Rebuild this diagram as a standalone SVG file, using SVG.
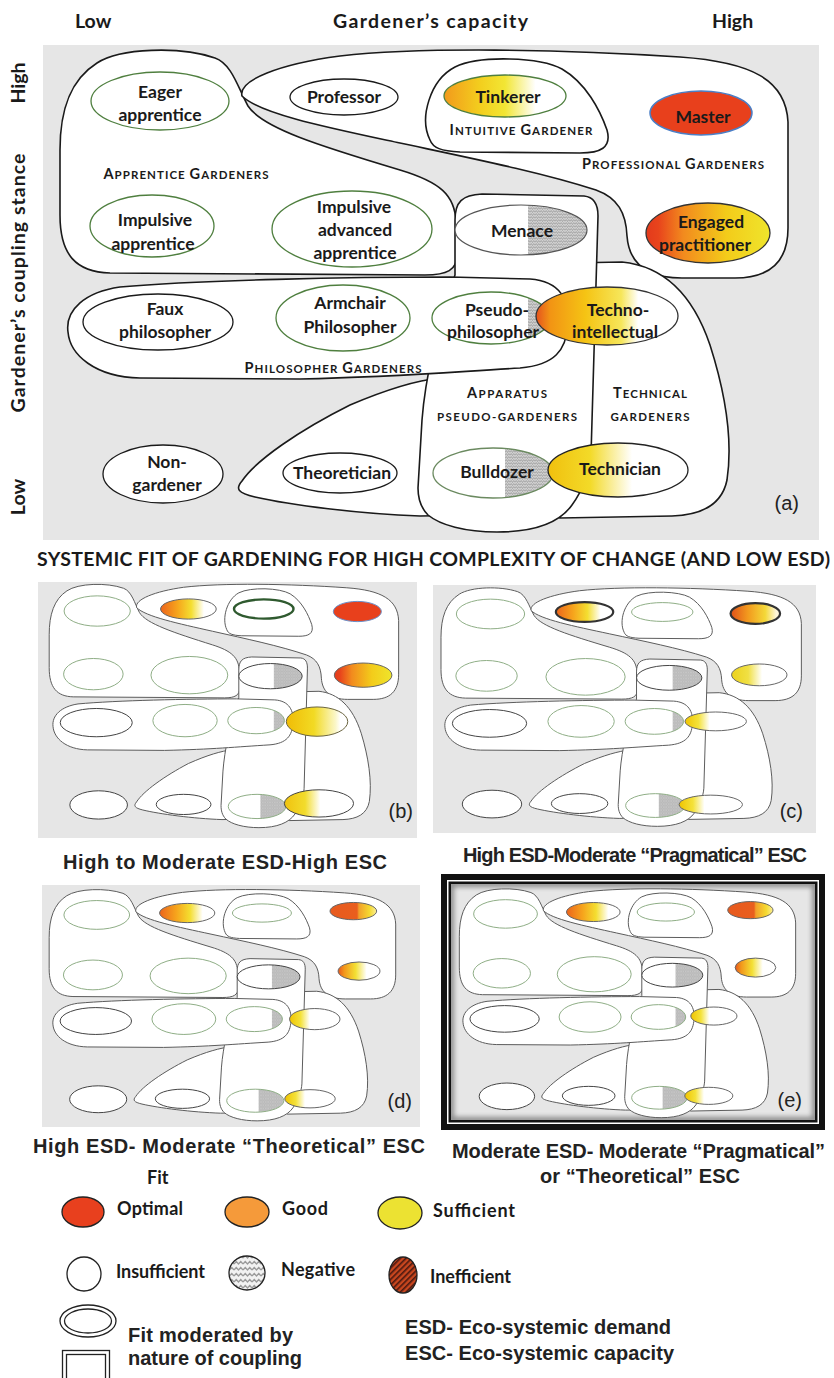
<svg xmlns="http://www.w3.org/2000/svg" width="834" height="1378" viewBox="0 0 834 1378">
<style>
  .bg{fill:#e6e6e6}
  .big{fill:#fff;stroke:#1a1a1a;stroke-width:1.6}
  .small{fill:#fff;stroke:#5c5c5c;stroke-width:1}
  .t{font-family:Lato,"Open Sans","Liberation Sans",sans-serif;font-weight:700;fill:#1a1a1a}
  .lbl{font-size:17.5px;text-anchor:middle}
  .sc{font-size:14.5px;text-anchor:middle}
  .sc .s{font-size:11.5px}
  .ax{font-size:19.5px}
  .leg{font-size:18px}
  .cap{font-family:"Liberation Sans",Arial,sans-serif;font-weight:700;font-size:20px;fill:#222}
  .tag{font-family:"Liberation Sans",Arial,sans-serif;font-size:20px;fill:#222;text-anchor:end}
  .eg{fill:#fff;stroke:#4f7f3f;stroke-width:1.3}
  .ek{fill:#fff;stroke:#1a1a1a;stroke-width:1.3}
  .sg{fill:#fff;stroke:#8fae86;stroke-width:1;vector-effect:non-scaling-stroke}
  .sk{fill:#fff;stroke:#444;stroke-width:1;vector-effect:non-scaling-stroke}
  .sn{stroke:#666;stroke-width:1;vector-effect:non-scaling-stroke}
  .sh{fill:url(#hz);stroke:none}
  .lg{stroke:#222;stroke-width:1.3}
</style>
<defs>
  <!-- fit gradients -->
  <linearGradient id="g-tink"><stop offset="0" stop-color="#f29a1c"/><stop offset=".3" stop-color="#f3cf1e"/><stop offset=".5" stop-color="#f2e634"/><stop offset=".75" stop-color="#fff"/></linearGradient>
  <linearGradient id="g-eng"><stop offset="0" stop-color="#e33a1c"/><stop offset=".1" stop-color="#e8441c"/><stop offset=".3" stop-color="#f28a1e"/><stop offset=".65" stop-color="#f3cc1a"/><stop offset="1" stop-color="#efe52c"/></linearGradient>
  <linearGradient id="g-techno"><stop offset="0" stop-color="#e5521e"/><stop offset=".1" stop-color="#f29414"/><stop offset=".35" stop-color="#f5c414"/><stop offset=".6" stop-color="#f6e65a"/><stop offset=".72" stop-color="#fff"/></linearGradient>
  <linearGradient id="g-techn"><stop offset="0" stop-color="#f0c00e"/><stop offset=".3" stop-color="#f3da28"/><stop offset=".6" stop-color="#fff"/></linearGradient>
  <linearGradient id="g-pb"><stop offset="0" stop-color="#ec641c"/><stop offset=".3" stop-color="#f6a41c"/><stop offset=".55" stop-color="#f4de30"/><stop offset=".78" stop-color="#fff"/></linearGradient>
  <linearGradient id="g-tb"><stop offset="0" stop-color="#f0bc06"/><stop offset=".45" stop-color="#f2da24"/><stop offset=".8" stop-color="#fbf7c8"/><stop offset=".88" stop-color="#fff"/></linearGradient>
  <linearGradient id="g-tnb"><stop offset="0" stop-color="#f0c20e"/><stop offset=".3" stop-color="#f2dc2c"/><stop offset=".52" stop-color="#fff"/></linearGradient>
  <linearGradient id="g-mc"><stop offset="0" stop-color="#e0501a"/><stop offset=".35" stop-color="#f29a1e"/><stop offset=".7" stop-color="#f4d838"/><stop offset=".92" stop-color="#fff6d8"/></linearGradient>
  <linearGradient id="g-md"><stop offset="0" stop-color="#e85a1e"/><stop offset=".58" stop-color="#e95e1e"/><stop offset=".62" stop-color="#f2a02a"/><stop offset=".85" stop-color="#f5da30"/><stop offset="1" stop-color="#fbef9a"/></linearGradient>
  <linearGradient id="g-ec"><stop offset="0" stop-color="#ecd21c"/><stop offset=".3" stop-color="#f0e044"/><stop offset=".55" stop-color="#fff"/></linearGradient>
  <linearGradient id="g-ed"><stop offset="0" stop-color="#e8561c"/><stop offset=".15" stop-color="#f2981c"/><stop offset=".42" stop-color="#f3e034"/><stop offset=".68" stop-color="#fff"/></linearGradient>
  <linearGradient id="g-ys"><stop offset="0" stop-color="#f0c400"/><stop offset=".22" stop-color="#f4e23a"/><stop offset=".4" stop-color="#fff"/></linearGradient>

  <!-- negative-fit texture -->
  <pattern id="hz" width="5" height="3" patternUnits="userSpaceOnUse">
    <rect width="5" height="3" fill="#d2d2d2"/>
    <path d="M0,2.5 L1.25,0.5 L2.5,2.5 L3.75,0.5 L5,2.5" fill="none" stroke="#8a8a8a" stroke-width="0.6"/>
  </pattern>
  <pattern id="zz" width="9" height="6" patternUnits="userSpaceOnUse">
    <rect width="9" height="6" fill="#f2f2f2"/>
    <path d="M0,4 L2.25,1.5 L4.5,4 L6.75,1.5 L9,4" fill="none" stroke="#9a9a9a" stroke-width="1.3"/>
  </pattern>
  <pattern id="stripe" width="4" height="4" patternUnits="userSpaceOnUse" patternTransform="rotate(45)">
    <rect width="4" height="4" fill="#c8461e"/>
    <rect width="1.6" height="4" fill="#4a1810"/>
  </pattern>

  <filter id="soft" x="-5%" y="-5%" width="110%" height="110%"><feGaussianBlur stdDeviation="2.5"/></filter>
  <clipPath id="clip-e"><rect x="451" y="884" width="364" height="236"/></clipPath>

  <!-- gardener family regions, drawn in the large panel's coordinates -->
  <path id="s-app" vector-effect="non-scaling-stroke" d="M97,63 C120,48 180,46 215,58 C232,64 238,88 248,106 C262,128 320,146 400,170 C440,182 455,195 456,222 L457,255 C457,270 447,275 425,275 L110,273 C76,272 60,255 60,215 L60,150 C60,110 70,80 97,63 Z"/>
  <path id="s-pro" vector-effect="non-scaling-stroke" d="M242,96 C238,80 280,64 340,56 C420,47 560,49 680,57 C752,62 786,80 788,122 L788,228 C788,262 770,278 735,278 L682,278 C645,278 629,262 627,236 C626,213 618,198 596,190 C540,172 470,158 400,143 C330,128 260,114 242,96 Z"/>
  <path id="s-int" vector-effect="non-scaling-stroke" d="M430,140 C419,118 430,80 455,67 C480,55 540,57 562,69 C586,83 600,110 607,130 C612,148 600,153 580,153 L460,152 C441,151 433,148 430,140 Z"/>
  <path id="s-the" vector-effect="non-scaling-stroke" d="M242,481 C256,460 300,430 350,405 C390,388 420,380 440,378 L480,378 L480,515 L420,516 C360,514 290,505 255,497 C238,493 235,489 242,481 Z"/>
  <path id="s-tec" vector-effect="non-scaling-stroke" d="M570,263 L622,262 C662,266 692,292 710,345 C725,392 733,440 727,480 C722,505 702,515 672,516 L560,518 L560,263 Z"/>
  <path id="s-apa" vector-effect="non-scaling-stroke" d="M455,220 C455,202 462,195 482,194 L584,196 C594,197 598,204 598,216 L591,455 C590,470 583,490 572,505 C560,522 535,532 497,532 C465,532 440,525 428,515 C420,507 418,498 418,488 L422,420 C425,380 438,320 455,275 Z"/>
  <path id="s-phi" vector-effect="non-scaling-stroke" d="M68,332 C65,310 85,292 120,287 C200,280 350,277 450,277 L530,279 C560,281 570,300 568,325 C566,350 555,365 520,368 C450,372 400,377 300,379 L140,378 C95,377 70,355 68,332 Z"/>

  <g id="regions">
    <use href="#s-app"/><use href="#s-pro"/><use href="#s-int"/><use href="#s-the"/>
    <use href="#s-tec"/><use href="#s-apa"/><use href="#s-phi"/>
  </g>

  <!-- outlines shared by the four small panels -->
  <g id="e-common">
    <ellipse class="sg" cx="160" cy="103" rx="69" ry="30"/>
    <ellipse class="sg" cx="152" cy="228" rx="62" ry="31"/>
    <ellipse class="sg" cx="352" cy="230" rx="80" ry="37"/>
    <ellipse fill="#fff" cx="521" cy="232" rx="66" ry="25"/>
    <path class="sh" d="M528,207.14 A66 25 0 0 1 528,256.86 Z"/>
    <ellipse class="sk" style="fill:none" cx="521" cy="232" rx="66" ry="25"/>
    <ellipse class="sk" cx="158" cy="324" rx="75" ry="28"/>
    <ellipse class="sg" cx="343" cy="320" rx="67" ry="32"/>
    <ellipse fill="#fff" cx="491" cy="320" rx="59" ry="26"/>
    <path class="sh" d="M528,299.7 A59 26 0 0 1 528,340.3 Z"/>
    <ellipse class="sg" style="fill:none" cx="491" cy="320" rx="59" ry="26"/>
    <ellipse class="sk" cx="163" cy="487" rx="60" ry="28"/>
    <ellipse class="sk" cx="340" cy="486" rx="57" ry="20"/>
    <ellipse fill="#fff" cx="493" cy="490" rx="60" ry="24"/>
    <path class="sh" d="M500,466.2 A60 24 0 0 1 500,513.8 Z"/>
    <ellipse class="sg" style="fill:none" cx="493" cy="490" rx="60" ry="24"/>
  </g>
</defs>

<rect width="834" height="1378" fill="#fff"/>

<!-- axis titles -->
<g id="axes">
  <text class="t ax" x="75" y="28">Low</text>
  <text class="t ax" x="333" y="28" textLength="195">Gardener’s capacity</text>
  <text class="t ax" x="712" y="28">High</text>
  <text class="t ax" transform="translate(25,83) rotate(-90)" text-anchor="middle">High</text>
  <text class="t ax" transform="translate(25,283) rotate(-90)" text-anchor="middle" textLength="259">Gardener’s coupling stance</text>
  <text class="t ax" transform="translate(25,497) rotate(-90)" text-anchor="middle">Low</text>
</g>

<!-- panel (a): typology map -->
<g id="panel-a">
  <rect class="bg" x="43" y="45" width="776" height="495"/>

  <g id="region-apprentice">
    <use href="#s-app" class="big"/>
    <text class="t sc" x="186" y="179" textLength="165">A<tspan class="s">PPRENTICE </tspan>G<tspan class="s">ARDENERS</tspan></text>
  </g>
  <g id="region-professional">
    <use href="#s-pro" class="big"/>
    <text class="t sc" x="673" y="169" textLength="182">P<tspan class="s">ROFESSIONAL </tspan>G<tspan class="s">ARDENERS</tspan></text>
  </g>
  <g id="region-intuitive">
    <use href="#s-int" class="big"/>
    <text class="t sc" x="521" y="135" textLength="143">I<tspan class="s">NTUITIVE </tspan>G<tspan class="s">ARDENER</tspan></text>
  </g>
  <g id="region-theoretician">
    <use href="#s-the" class="big"/>
  </g>
  <g id="region-technical">
    <use href="#s-tec" class="big"/>
    <text class="t sc" x="650" y="398" textLength="74">T<tspan class="s">ECHNICAL</tspan></text>
    <text class="t sc" x="650" y="421" textLength="79"><tspan class="s">GARDENERS</tspan></text>
  </g>
  <g id="region-apparatus">
    <use href="#s-apa" class="big"/>
    <text class="t sc" x="507" y="398" textLength="80">A<tspan class="s">PPARATUS</tspan></text>
    <text class="t sc" x="507" y="421" textLength="140"><tspan class="s">PSEUDO-GARDENERS</tspan></text>
  </g>
  <g id="region-philosopher">
    <use href="#s-phi" class="big"/>
    <text class="t sc" x="333" y="373" textLength="177">P<tspan class="s">HILOSOPHER </tspan>G<tspan class="s">ARDENERS</tspan></text>
  </g>

  <g id="node-eager-apprentice">
    <ellipse class="eg" cx="160" cy="101" rx="69" ry="29"/>
    <text class="t lbl" x="160" y="98">Eager</text>
    <text class="t lbl" x="160" y="121">apprentice</text>
  </g>
  <g id="node-professor">
    <ellipse class="ek" cx="344" cy="97" rx="54" ry="18"/>
    <text class="t lbl" x="344" y="103">Professor</text>
  </g>
  <g id="node-tinkerer">
    <ellipse cx="505" cy="96" rx="61" ry="21" fill="url(#g-tink)" stroke="#4f7f3f" stroke-width="1.3"/>
    <text class="t lbl" x="508" y="103">Tinkerer</text>
  </g>
  <g id="node-master">
    <ellipse cx="701" cy="113" rx="51" ry="22" fill="#e8401c" stroke="#4b7fc6" stroke-width="1.5"/>
    <text class="t lbl" x="703" y="123">Master</text>
  </g>
  <g id="node-impulsive-apprentice">
    <ellipse class="eg" cx="152" cy="226" rx="62" ry="31"/>
    <text class="t lbl" x="155" y="226">Impulsive</text>
    <text class="t lbl" x="153" y="250">apprentice</text>
  </g>
  <g id="node-impulsive-advanced">
    <ellipse class="eg" cx="352" cy="229" rx="80" ry="38"/>
    <text class="t lbl" x="354" y="213">Impulsive</text>
    <text class="t lbl" x="355" y="236">advanced</text>
    <text class="t lbl" x="355" y="259">apprentice</text>
  </g>
  <g id="node-menace">
    <ellipse cx="521" cy="230" rx="66" ry="25" fill="#fff"/>
    <path d="M528,205.14 A66 25 0 0 1 528,254.86 Z" fill="url(#hz)"/>
    <ellipse cx="521" cy="230" rx="66" ry="25" fill="none" stroke="#555" stroke-width="1.2"/>
    <text class="t lbl" x="522" y="237">Menace</text>
  </g>
  <g id="node-engaged-practitioner">
    <ellipse cx="708" cy="233" rx="62" ry="30" fill="url(#g-eng)" stroke="#333" stroke-width="1.3"/>
    <text class="t lbl" x="711" y="228">Engaged</text>
    <text class="t lbl" x="705" y="251">practitioner</text>
  </g>
  <g id="node-faux-philosopher">
    <ellipse class="ek" cx="158" cy="322" rx="75" ry="28"/>
    <text class="t lbl" x="165" y="315">Faux</text>
    <text class="t lbl" x="165" y="338">philosopher</text>
  </g>
  <g id="node-armchair-philosopher">
    <ellipse class="eg" cx="343" cy="318" rx="67" ry="33"/>
    <text class="t lbl" x="350" y="309">Armchair</text>
    <text class="t lbl" x="350" y="333">Philosopher</text>
  </g>
  <g id="node-pseudo-philosopher">
    <ellipse cx="491" cy="318" rx="59" ry="26" fill="#fff"/>
    <path d="M528,297.7 A59 26 0 0 1 528,338.3 Z" fill="url(#hz)"/>
    <ellipse class="eg" cx="491" cy="318" rx="59" ry="26" style="fill:none"/>
    <text class="t lbl" x="497" y="316">Pseudo-</text>
    <text class="t lbl" x="493" y="338">philosopher</text>
  </g>
  <g id="node-techno-intellectual">
    <ellipse cx="607" cy="316" rx="71" ry="29" fill="url(#g-techno)" stroke="#333" stroke-width="1.3"/>
    <text class="t lbl" x="618" y="316">Techno-</text>
    <text class="t lbl" x="615" y="338">intellectual</text>
  </g>
  <g id="node-non-gardener">
    <ellipse class="ek" cx="163" cy="474" rx="60" ry="29"/>
    <text class="t lbl" x="167" y="468">Non-</text>
    <text class="t lbl" x="167" y="491">gardener</text>
  </g>
  <g id="node-theoretician">
    <ellipse class="ek" cx="340" cy="473" rx="57" ry="20"/>
    <text class="t lbl" x="342" y="479">Theoretician</text>
  </g>
  <g id="node-bulldozer">
    <ellipse cx="493" cy="473" rx="60" ry="25" fill="#fff"/>
    <path d="M505,448.5 A60 25 0 0 1 505,497.5 Z" fill="url(#hz)"/>
    <ellipse cx="493" cy="473" rx="60" ry="25" fill="none" stroke="#6b8a60" stroke-width="1.3"/>
    <text class="t lbl" x="497" y="478">Bulldozer</text>
  </g>
  <g id="node-technician">
    <ellipse cx="618" cy="470" rx="70" ry="27" fill="url(#g-techn)" stroke="#222" stroke-width="1.3"/>
    <text class="t lbl" x="620" y="475">Technician</text>
  </g>
  <text class="tag" x="799" y="510">(a)</text>
</g>

<text class="t" x="37" y="566" font-size="19.5" textLength="793">SYSTEMIC FIT OF GARDENING FOR HIGH COMPLEXITY OF CHANGE (AND LOW ESD)</text>

<!-- panel (b) -->
<g id="panel-b">
  <rect class="bg" x="38" y="582" width="379" height="256"/>
  <g transform="matrix(0.48,0,0,0.505,20.4,559)">
    <use href="#regions" class="small"/>
    <use href="#e-common"/>
    <ellipse class="sn" cx="350" cy="99" rx="58" ry="20" fill="url(#g-pb)"/>
    <ellipse cx="507" cy="99" rx="62" ry="19" fill="#fff" stroke="#2f5a2f" stroke-width="2.4" vector-effect="non-scaling-stroke"/>
    <ellipse cx="702" cy="104" rx="50" ry="20" fill="#e8401c" stroke="#6b8fc8" stroke-width="1" vector-effect="non-scaling-stroke"/>
    <ellipse class="sn" cx="714" cy="230" rx="60" ry="24" fill="url(#g-eng)"/>
    <ellipse cx="618" cy="322" rx="64" ry="29" fill="url(#g-tb)" stroke="#6a6440" stroke-width="1" vector-effect="non-scaling-stroke"/>
    <ellipse class="sk" cx="622" cy="484" rx="72" ry="27" style="fill:url(#g-tnb)"/>
  </g>
  <text class="tag" x="413" y="818">(b)</text>
</g>
<text class="cap" x="63" y="869" textLength="324">High to Moderate ESD-High ESC</text>

<!-- panel (c) -->
<g id="panel-c">
  <rect class="bg" x="433" y="585" width="383" height="248"/>
  <g transform="matrix(0.495,0,0,0.495,411.3,563)">
    <use href="#regions" class="small"/>
    <use href="#e-common"/>
    <ellipse cx="350" cy="99" rx="58" ry="20" fill="url(#g-pb)" stroke="#333" stroke-width="2.2" vector-effect="non-scaling-stroke"/>
    <ellipse class="sg" cx="507" cy="99" rx="62" ry="19"/>
    <ellipse cx="695" cy="102" rx="50" ry="21" fill="url(#g-mc)" stroke="#333" stroke-width="2.2" vector-effect="non-scaling-stroke"/>
    <ellipse class="sn" cx="703" cy="226" rx="56" ry="22" fill="url(#g-ec)"/>
    <ellipse class="sn" cx="615" cy="320" rx="62" ry="19" fill="url(#g-ys)"/>
    <ellipse class="sn" cx="605" cy="488" rx="64" ry="19" fill="url(#g-ys)"/>
  </g>
  <text class="tag" x="803" y="818">(c)</text>
</g>
<text class="cap" x="463" y="862" textLength="344">High ESD-Moderate “Pragmatical” ESC</text>

<!-- panel (d) -->
<g id="panel-d">
  <rect class="bg" x="42" y="885" width="378" height="242"/>
  <g transform="matrix(0.476,0,0,0.48,20.6,865.5)">
    <use href="#regions" class="small"/>
    <use href="#e-common"/>
    <ellipse class="sn" cx="350" cy="99" rx="58" ry="20" fill="url(#g-pb)"/>
    <ellipse class="sg" cx="507" cy="99" rx="62" ry="19"/>
    <ellipse class="sn" cx="699" cy="95" rx="49" ry="18" fill="url(#g-md)"/>
    <ellipse class="sn" cx="711" cy="220" rx="44" ry="19" fill="url(#g-ed)"/>
    <ellipse class="sn" cx="618" cy="320" rx="53" ry="22" fill="url(#g-ys)"/>
    <ellipse class="sn" cx="608" cy="486" rx="53" ry="19" fill="url(#g-ys)"/>
  </g>
  <text class="tag" x="412" y="1108">(d)</text>
</g>
<text class="cap" x="33" y="1153" textLength="392">High ESD- Moderate “Theoretical” ESC</text>

<!-- panel (e), framed -->
<g id="panel-e">
  <rect x="444" y="877" width="378" height="250" fill="#fff" stroke="#111" stroke-width="6"/>
  <rect x="449.75" y="882.75" width="366.5" height="238.5" fill="none" stroke="#111" stroke-width="2.5"/>
  <rect x="451" y="884" width="364" height="236" fill="#e6e6e6"/>
  <rect x="451" y="884" width="364" height="236" fill="none" stroke="#8a8a8a" stroke-width="6" filter="url(#soft)" clip-path="url(#clip-e)"/>
  <g transform="matrix(0.462,0,0,0.475,431.6,865)">
    <use href="#regions" class="small"/>
    <use href="#e-common"/>
    <ellipse class="sn" cx="350" cy="99" rx="58" ry="20" fill="url(#g-pb)"/>
    <ellipse class="sg" cx="507" cy="99" rx="62" ry="19"/>
    <ellipse class="sn" cx="690" cy="95" rx="49" ry="18" fill="url(#g-md)"/>
    <ellipse class="sn" cx="701" cy="216" rx="44" ry="20" fill="url(#g-ed)"/>
    <ellipse class="sn" cx="611" cy="318" rx="50" ry="19" fill="url(#g-ys)"/>
    <ellipse class="sn" cx="600" cy="486" rx="52" ry="18" fill="url(#g-ys)"/>
  </g>
  <text class="tag" x="802" y="1107">(e)</text>
</g>
<text class="cap" x="452" y="1158" textLength="373">Moderate ESD- Moderate “Pragmatical”</text>
<text class="cap" x="540" y="1183" textLength="200">or “Theoretical” ESC</text>

<!-- legend -->
<g id="legend">
  <text class="t leg" x="147" y="1184">Fit</text>
  <g id="legend-optimal">
    <ellipse class="lg" cx="83" cy="1212" rx="21" ry="15" fill="#e8401e"/>
    <text class="t leg" x="117" y="1215" textLength="66">Optimal</text>
  </g>
  <g id="legend-good">
    <ellipse class="lg" cx="247" cy="1212" rx="22" ry="15" fill="#f59a3a"/>
    <text class="t leg" x="282" y="1215" textLength="46">Good</text>
  </g>
  <g id="legend-sufficient">
    <ellipse class="lg" cx="400" cy="1213" rx="22" ry="16" fill="#ece232"/>
    <text class="t leg" x="433" y="1217" textLength="82">Sufficient</text>
  </g>
  <g id="legend-insufficient">
    <circle class="lg" cx="84" cy="1274" r="17" fill="#fff"/>
    <text class="t leg" x="116" y="1278" textLength="89">Insufficient</text>
  </g>
  <g id="legend-negative">
    <ellipse class="lg" cx="247" cy="1273" rx="18" ry="17" fill="url(#zz)"/>
    <text class="t leg" x="281" y="1276" textLength="74">Negative</text>
  </g>
  <g id="legend-inefficient">
    <ellipse class="lg" cx="403" cy="1275" rx="14" ry="18" fill="url(#stripe)"/>
    <text class="t leg" x="430" y="1283" textLength="81">Inefficient</text>
  </g>
  <g id="legend-moderated">
    <ellipse class="lg" cx="88" cy="1321" rx="28" ry="16" fill="#fff"/>
    <ellipse class="lg" cx="88" cy="1321" rx="23.5" ry="12" fill="none"/>
    <rect class="lg" x="62.5" y="1350.5" width="47" height="32" fill="#fff"/>
    <rect class="lg" x="66.5" y="1354.5" width="39" height="26" fill="none"/>
    <text class="cap" x="128" y="1342" textLength="165">Fit moderated by</text>
    <text class="cap" x="128" y="1365" textLength="174">nature of coupling</text>
  </g>
  <g id="legend-abbrev">
    <text class="cap" x="405" y="1334" textLength="266">ESD- Eco-systemic demand</text>
    <text class="cap" x="405" y="1360" textLength="269">ESC- Eco-systemic capacity</text>
  </g>
</g>
</svg>
